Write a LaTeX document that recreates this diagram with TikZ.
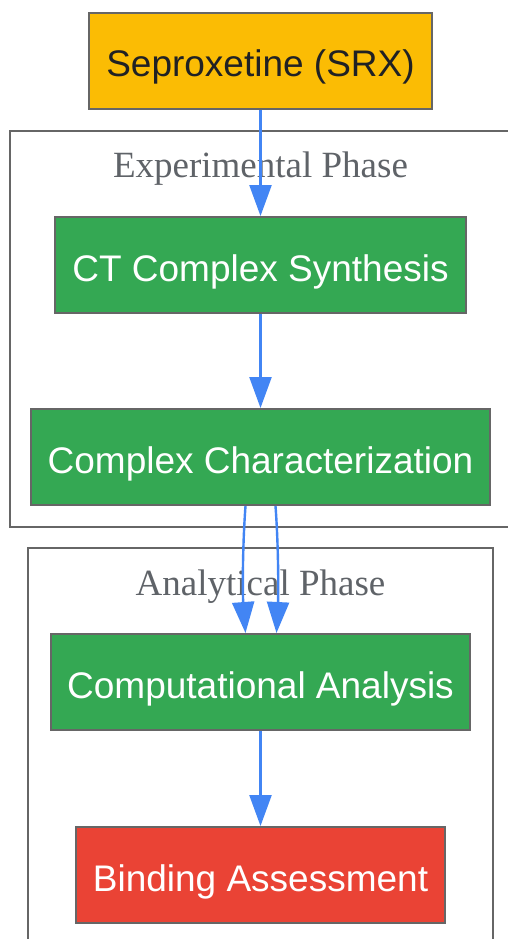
\documentclass[tikz,border=0pt]{standalone}
\usepackage{fontspec}
\setmainfont{Liberation Sans}
\newfontfamily\clusterfont{Liberation Serif}
\usetikzlibrary{arrows.meta}
\definecolor{bordergray}{HTML}{666666}
\definecolor{labelgray}{HTML}{5F6368}
\definecolor{gyellow}{HTML}{FBBC04}
\definecolor{ggreen}{HTML}{34A853}
\definecolor{gred}{HTML}{EA4335}
\definecolor{gblue}{HTML}{4285F4}
\definecolor{darktext}{HTML}{202124}
\tikzset{
  box/.style={draw=bordergray, line width=2pt, rectangle, minimum height=96pt, inner sep=0pt,
    text height=32pt, text depth=0pt, font=\fontsize{37}{44}\selectfont},
  yellowbox/.style={box, fill=gyellow, text=darktext},
  greenbox/.style={box, fill=ggreen, text=white},
  redbox/.style={box, fill=gred, text=white},
  cluster/.style={draw=bordergray, line width=2pt},
  clusterlabel/.style={text=labelgray, font=\clusterfont\fontsize{37}{44}\selectfont, inner sep=0pt},
  edge/.style={draw=gblue, line width=2.4pt, -{Triangle[length=31pt, width=22pt]}}
}
\begin{document}
\begin{tikzpicture}[x=1pt,y=1pt]
\useasboundingbox (0,0) rectangle (508,-939);
\fill[white] (0,0) rectangle (508,-939);
\begin{scope}
\clip (0,0) rectangle (508,-939);
\draw[cluster] (10,-131) rectangle (530,-527);
\draw[cluster] (28,-548) rectangle (493,-960);
\end{scope}
\node[clusterlabel] (explabel) at (260.5,-169) {Experimental Phase};
\node[clusterlabel] (analabel) at (260.5,-587) {Analytical Phase};
\node[yellowbox, minimum width=343pt] (sep) at (260.5,-61) {Seproxetine (SRX)};
\node[greenbox, minimum width=411pt] (ct) at (260.5,-265) {CT Complex Synthesis};
\node[greenbox, minimum width=459pt] (char) at (260.5,-457) {Complex Characterization};
\node[greenbox, minimum width=419pt] (comp) at (260.5,-682) {Computational Analysis};
\node[redbox, minimum width=369pt] (bind) at (260.5,-875) {Binding Assessment};
\draw[edge] (sep) -- (ct);
\draw[edge] (ct) -- (char);
\draw[edge] ([xshift=-15pt]char.south) .. controls ([xshift=-18pt,yshift=-40pt]char.south) and ([xshift=-18pt,yshift=40pt]comp.north) .. ([xshift=-15pt]comp.north);
\draw[edge] ([xshift=15pt]char.south) .. controls ([xshift=18pt,yshift=-40pt]char.south) and ([xshift=18pt,yshift=40pt]comp.north) .. ([xshift=16pt]comp.north);
\draw[edge] (comp) -- (bind);
\end{tikzpicture}
\end{document}
